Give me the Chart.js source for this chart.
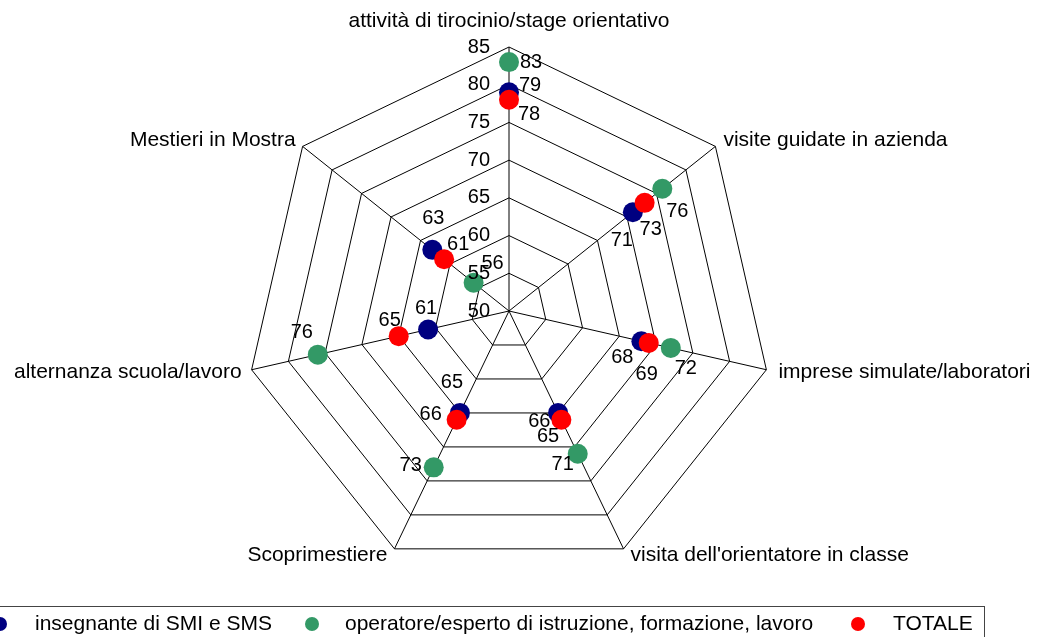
<!DOCTYPE html>
<html><head><meta charset="utf-8">
<script src="https://cdn.jsdelivr.net/npm/chart.js@4/dist/chart.umd.min.js"></script>
<style>html,body{margin:0;padding:0;background:#fff}#wrap{width:1042px;height:637px;position:relative}</style>
</head><body><div id="wrap"><canvas id="c" width="1042" height="637"></canvas></div>
<script>
const categories = ["attività di tirocinio/stage orientativo","visite guidate in azienda","imprese simulate/laboratori","visita dell'orientatore in classe","Scoprimestiere","alternanza scuola/lavoro","Mestieri in Mostra"];
const seriesNames = ["insegnante di SMI e SMS","operatore/esperto di istruzione, formazione, lavoro","TOTALE"];
const insegnante = [79,71,68,65,65,61,63];
const operatore = [83,76,72,71,73,76,56];
const totale = [78,73,69,66,66,65,61];
const tickValues = [50,55,60,65,70,75,80,85];

const colors = ["#000080","#339966","#FF0000"];
const FONT = "21px 'Liberation Sans', Arial, sans-serif";
const NUMFONT = "20px 'Liberation Sans', Arial, sans-serif";
// label offsets (style) per series per axis [dx,dy] from point centre
const labelOffsets = [
  [[21,-7],[-11,28],[-19,16],[-10,24],[-8,-30],[-2,-21],[1,-31]],
  [[22,0],[15,23],[15,21],[-15,11],[-23,-2],[-16,-22],[19,-19]],
  [[20,15],[6,27],[-2,32],[-22,2],[-26,-5],[-9,-16],[14,-15]]
];
const axisLabelStyle = [
  {align:"center",dx:0,dy:-26},{align:"left",dx:8,dy:-6},{align:"left",dx:12,dy:2},
  {align:"left",dx:7,dy:6},{align:"right",dx:-7,dy:6},{align:"right",dx:-10,dy:2},{align:"right",dx:-7,dy:-6}
];

const custom = {
  id:"custom",
  afterDatasetsDraw(chart){
    const ctx = chart.ctx, s = chart.scales.r;
    ctx.save();
    ctx.fillStyle = "#000"; ctx.textBaseline = "middle";
    // tick labels
    ctx.font = NUMFONT;
    ctx.textAlign = "right";
    tickValues.forEach(v=>{
      const d = s.getDistanceFromCenterForValue(v);
      ctx.fillText(String(v), s.xCenter - 19, s.yCenter - d);
    });
    // data labels
    ctx.textAlign = "center";
    chart.data.datasets.forEach((ds,di)=>{
      const meta = chart.getDatasetMeta(di);
      meta.data.forEach((pt,i)=>{
        const o = labelOffsets[di][i];
        ctx.fillText(String(ds.data[i]), pt.x + o[0], pt.y + o[1]);
      });
    });
    // axis labels
    ctx.font = FONT;
    categories.forEach((c,i)=>{
      const p = s.getPointPosition(i, s.drawingArea);
      const st = axisLabelStyle[i];
      ctx.textAlign = st.align;
      ctx.fillText(c, p.x + st.dx, p.y + st.dy);
    });
    // legend
    ctx.strokeStyle = "#444"; ctx.lineWidth = 1;
    ctx.strokeRect(-10.5, 606.5, 995, 50);
    const legendX = [0, 312, 858];
    const legendTextX = [35, 345, 893];
    seriesNames.forEach((n,i)=>{
      ctx.fillStyle = colors[i];
      ctx.beginPath(); ctx.arc(legendX[i], 624, 7, 0, Math.PI*2); ctx.fill();
      ctx.fillStyle = "#000"; ctx.textAlign = "left";
      ctx.fillText(n, legendTextX[i], 624);
    });
    ctx.restore();
  }
};

const series = [insegnante, operatore, totale];
new Chart(document.getElementById("c"), {
  type:"radar",
  data:{
    labels: categories,
    datasets: series.map((d,i)=>({
      label: seriesNames[i], data: d, showLine:false, fill:false,
      backgroundColor: colors[i], borderColor: "rgba(0,0,0,0)",
      pointBackgroundColor: colors[i], pointBorderColor: colors[i],
      pointRadius: 10, pointHoverRadius: 10, borderWidth:0, pointBorderWidth:0,
      order: [2,1,0][i]
    }))
  },
  options:{
    responsive:false, animation:false, devicePixelRatio:1,
    layout:{padding:{top:47,bottom:62,left:245,right:269}},
    plugins:{legend:{display:false},tooltip:{enabled:false},filler:{propagate:false}},
    elements:{line:{fill:false}},
    scales:{r:{
      min:50,max:85,
      ticks:{display:false,stepSize:5},
      pointLabels:{display:false},
      grid:{color:"#000",lineWidth:1,circular:false},
      angleLines:{color:"#000",lineWidth:1}
    }}
  },
  plugins:[custom]
});
</script></body></html>
